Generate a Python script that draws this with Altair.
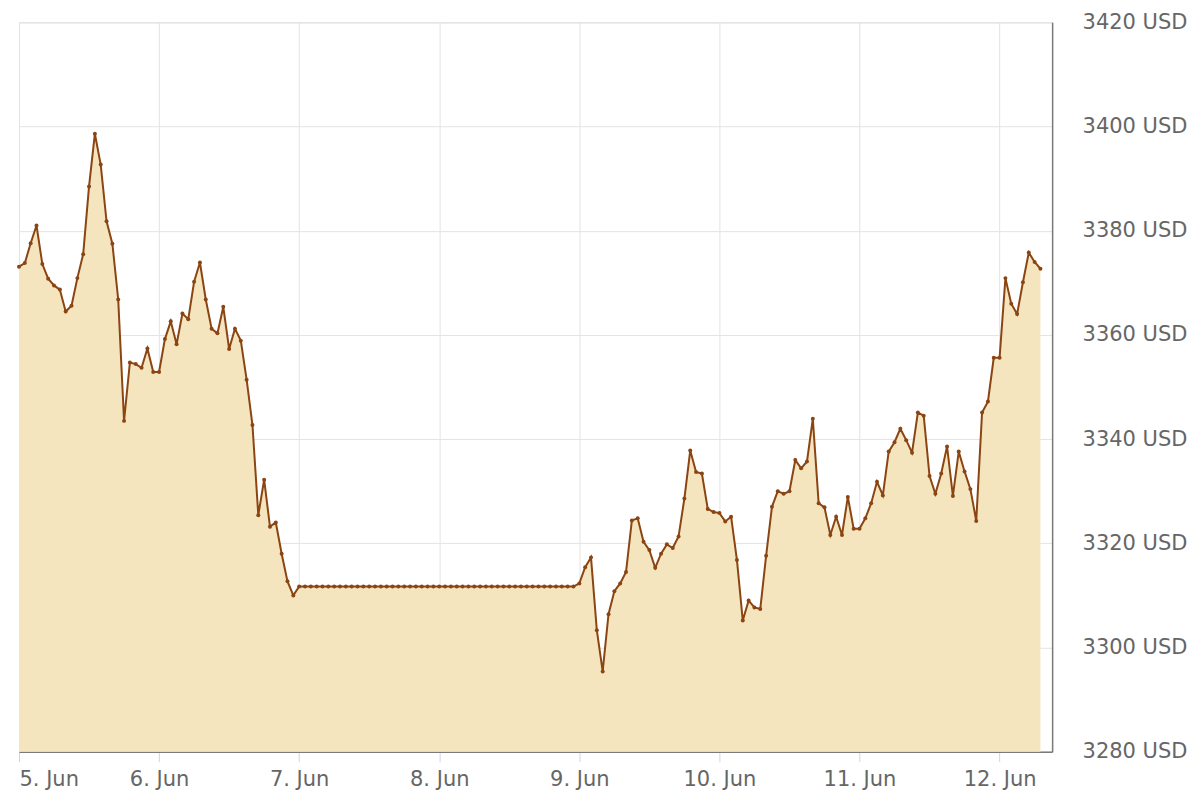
import altair as alt
import pandas as pd

# Hourly gold price (USD), 5 Jun 2025 00:00 -> 12 Jun 2025 07:00
jun5 = [3373.1, 3373.8, 3377.6, 3381.0, 3373.6, 3370.8, 3369.5, 3368.7,
        3364.5, 3365.6, 3370.9, 3375.5, 3388.5, 3398.6, 3392.7, 3381.8,
        3377.5, 3366.8, 3343.5, 3354.7, 3354.4, 3353.7, 3357.4, 3352.9]
jun6 = [3352.9, 3359.2, 3362.6, 3358.2, 3364.1, 3363.0, 3370.2, 3373.9,
        3366.8, 3361.2, 3360.3, 3365.4, 3357.3, 3361.2, 3358.9, 3351.4,
        3342.7, 3325.4, 3332.2, 3323.2, 3324.0, 3318.0, 3312.7, 3310.0]
jun7 = [3311.7, 3311.7, 3311.7, 3311.7, 3311.7, 3311.7, 3311.7, 3311.7,
        3311.7, 3311.7, 3311.7, 3311.7, 3311.7, 3311.7, 3311.7, 3311.7,
        3311.7, 3311.7, 3311.7, 3311.7, 3311.7, 3311.7, 3311.7, 3311.7]
jun8 = [3311.7, 3311.7, 3311.7, 3311.7, 3311.7, 3311.7, 3311.7, 3311.7,
        3311.7, 3311.7, 3311.7, 3311.7, 3311.7, 3311.7, 3311.7, 3311.7,
        3311.7, 3311.7, 3311.7, 3311.7, 3311.7, 3311.7, 3311.7, 3311.7]
jun9 = [3312.3, 3315.4, 3317.3, 3303.3, 3295.4, 3306.4, 3310.8, 3312.3,
        3314.5, 3324.4, 3324.8, 3320.3, 3318.7, 3315.3, 3318.0, 3319.8,
        3319.1, 3321.3, 3328.6, 3337.8, 3333.7, 3333.4, 3326.6, 3326.0]
jun10 = [3325.8, 3324.2, 3325.1, 3316.8, 3305.2, 3309.0, 3307.7, 3307.4,
         3317.6, 3327.0, 3330.0, 3329.5, 3330.0, 3336.0, 3334.4, 3335.7,
         3343.9, 3327.7, 3326.9, 3321.6, 3325.1, 3321.6, 3328.9, 3322.8]
jun11 = [3322.8, 3324.8, 3327.7, 3331.8, 3329.2, 3337.6, 3339.4, 3342.0,
         3339.8, 3337.4, 3345.1, 3344.5, 3332.9, 3329.5, 3333.4, 3338.6,
         3329.1, 3337.6, 3333.8, 3330.4, 3324.3, 3345.1, 3347.2, 3355.6]
jun12 = [3355.6, 3370.9, 3366.0, 3364.0, 3370.1, 3375.8, 3374.0, 3372.7]

y_ticks = [3280, 3300, 3320, 3340, 3360, 3380, 3400, 3420]
day_ticks = [5, 6, 7, 8, 9, 10, 11, 12]

prices = jun5 + jun6 + jun7 + jun8 + jun9 + jun10 + jun11 + jun12
times = pd.date_range("2025-06-05T00:00:00", periods=len(prices), freq="h")
df = pd.DataFrame({"t": times.strftime("%Y-%m-%dT%H:%M:%S"), "price": prices})

FONT = "DejaVu Sans"
LINE = "#8b4513"
FILL = "#f5e5bf"

x_enc = alt.X(
    "t:T",
    scale=alt.Scale(domain=[alt.DateTime(year=2025, month=6, date=5, hours=0),
                            alt.DateTime(year=2025, month=6, date=12, hours=9)]),
    axis=alt.Axis(
        title=None,
        values=[alt.DateTime(year=2025, month=6, date=d) for d in day_ticks],
        format="%-d. %b",
        grid=True, gridColor="#e3e3e3", gridWidth=1,
        tickSize=10, tickColor="#ccd6eb", tickWidth=1,
        domainColor="#7a7a7a", domainWidth=1.5,
        labelFont=FONT, labelFontSize=21, labelColor="#666666",
        labelPadding=7, labelFlush=True,
    ),
)
y_enc = alt.Y(
    "price:Q",
    scale=alt.Scale(domain=[3280, 3420], zero=False, nice=False),
    axis=alt.Axis(
        title=None, orient="right", values=y_ticks,
        labelExpr="datum.value + ' USD'",
        grid=True, gridColor="#e3e3e3", gridWidth=1,
        ticks=False, domainColor="#7a7a7a", domainWidth=1.5,
        labelFont=FONT, labelFontSize=21, labelColor="#666666",
        labelPadding=30,
    ),
)

base = alt.Chart(df)
area = base.mark_area(color=FILL, opacity=1).encode(x=x_enc, y=y_enc, y2=alt.datum(3280))
line = base.mark_line(color=LINE, strokeWidth=2).encode(x=x_enc, y=y_enc)
pts = base.mark_point(color=LINE, filled=True, size=16, opacity=1).encode(x=x_enc, y=y_enc)

chart = (area + line + pts).properties(
    width=1034, height=730,
    autosize=alt.AutoSizeParams(type="none"),
    padding={"left": 11, "top": 14, "right": 140, "bottom": 40},
).configure_view(stroke=None).configure(background="white")

chart.save("out.html", embed_options={"renderer": "svg", "actions": False})
